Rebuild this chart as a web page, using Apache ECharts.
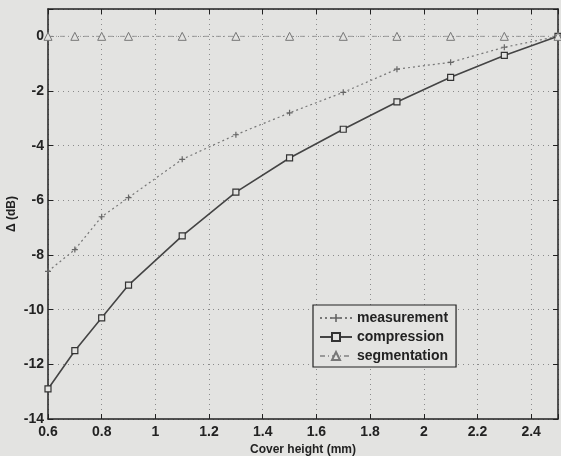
<!DOCTYPE html>
<html>
<head>
<meta charset="utf-8">
<script src="https://cdn.jsdelivr.net/npm/echarts@6/dist/echarts.min.js"></script>
<style>
  html, body { margin: 0; padding: 0; background: #e3e3e1; }
  #chart { width: 561px; height: 456px; }
</style>
</head>
<body>
<div id="chart"></div>
<script>
// cover height (mm)
var heights = [0.6, 0.7, 0.8, 0.9, 1.1, 1.3, 1.5, 1.7, 1.9, 2.1, 2.3, 2.5];
// delta (dB)
var measurement = [-8.6, -7.8, -6.6, -5.9, -4.5, -3.6, -2.8, -2.05, -1.2, -0.95, -0.4, 0];
var compression = [-12.9, -11.5, -10.3, -9.1, -7.3, -5.7, -4.45, -3.4, -2.4, -1.5, -0.7, 0];
var segmentation = [0, 0, 0, 0, 0, 0, 0, 0, 0, 0, 0, 0];

function pairs(ys) {
    return heights.map(function(x, i) { return [x, ys[i]]; });
}

var plusPath = 'path://M4,0 L6,0 L6,4 L10,4 L10,6 L6,6 L6,10 L4,10 L4,6 L0,6 L0,4 L4,4 Z';
var ink = '#222';
var bg = '#e3e3e1';
var font = 'Liberation Sans, Arial, sans-serif';

var frameLine = { onZero: false, lineStyle: { color: ink, width: 1.5 } };
var frameTick = { inside: true, length: 5, lineStyle: { color: ink } };
var gridLine = { show: true, lineStyle: { color: '#8a8a8a', type: [1, 4] } };

var option = {
    backgroundColor: bg,
    animation: false,
    grid: { left: 48, right: 3, top: 9, bottom: 37, outerBoundsMode: 'none' },
    legend: {
        orient: 'vertical',
        left: 313,
        top: 305,
        itemWidth: 32,
        itemHeight: 10,
        itemGap: 5,
        padding: [6, 8, 4, 6],
        borderColor: ink,
        borderWidth: 1.2,
        backgroundColor: bg,
        textStyle: { color: ink, fontSize: 14, fontWeight: 'bold', fontFamily: font },
        data: ['measurement', 'compression', 'segmentation']
    },
    xAxis: [{
        type: 'value',
        min: 0.6,
        max: 2.5,
        interval: 0.2,
        name: 'Cover height (mm)',
        nameLocation: 'middle',
        nameGap: 25,
        nameMoveOverlap: false,
        nameTextStyle: { color: ink, fontSize: 12, fontWeight: 'bold', fontFamily: font },
        axisLine: frameLine,
        axisTick: frameTick,
        axisLabel: {
            color: ink, fontSize: 14, fontWeight: 'bold', fontFamily: font, margin: 6,
            formatter: function(v) { return Math.abs(v - 2.5) < 1e-6 ? '' : String(+v.toFixed(1)); }
        },
        splitLine: gridLine
    }, {
        type: 'value',
        position: 'top',
        min: 0.6,
        max: 2.5,
        interval: 0.2,
        axisLine: frameLine,
        axisTick: frameTick,
        axisLabel: { show: false },
        splitLine: { show: false }
    }],
    yAxis: [{
        type: 'value',
        min: -14,
        max: 1,
        interval: 2,
        name: 'Δ (dB)',
        nameLocation: 'middle',
        nameGap: 30,
        nameMoveOverlap: false,
        nameTextStyle: { color: ink, fontSize: 12, fontWeight: 'bold', fontFamily: font },
        axisLine: frameLine,
        axisTick: frameTick,
        axisLabel: {
            color: ink, fontSize: 14, fontWeight: 'bold', fontFamily: font, margin: 4,
            formatter: function(v) { return v > 0.5 ? '' : String(v); }
        },
        splitLine: gridLine
    }, {
        type: 'value',
        position: 'right',
        min: -14,
        max: 1,
        interval: 2,
        axisLine: frameLine,
        axisTick: frameTick,
        axisLabel: { show: false },
        splitLine: { show: false }
    }],
    series: [{
        name: 'measurement',
        type: 'line',
        data: pairs(measurement),
        symbol: plusPath,
        symbolSize: 6,
        itemStyle: { color: '#666' },
        lineStyle: { color: '#777', width: 1.2, type: [2, 3] }
    }, {
        name: 'compression',
        type: 'line',
        data: pairs(compression),
        symbol: 'rect',
        symbolSize: 6,
        itemStyle: { color: bg, borderColor: '#333', borderWidth: 1.2 },
        lineStyle: { color: '#444', width: 1.6 }
    }, {
        name: 'segmentation',
        type: 'line',
        data: pairs(segmentation),
        symbol: 'triangle',
        symbolSize: 8,
        itemStyle: { color: bg, borderColor: '#777', borderWidth: 1 },
        lineStyle: { color: '#999', width: 1, type: [5, 3, 1, 3] }
    }]
};

var myChart = echarts.init(document.getElementById('chart'));
myChart.setOption(option);
</script>
</body>
</html>
